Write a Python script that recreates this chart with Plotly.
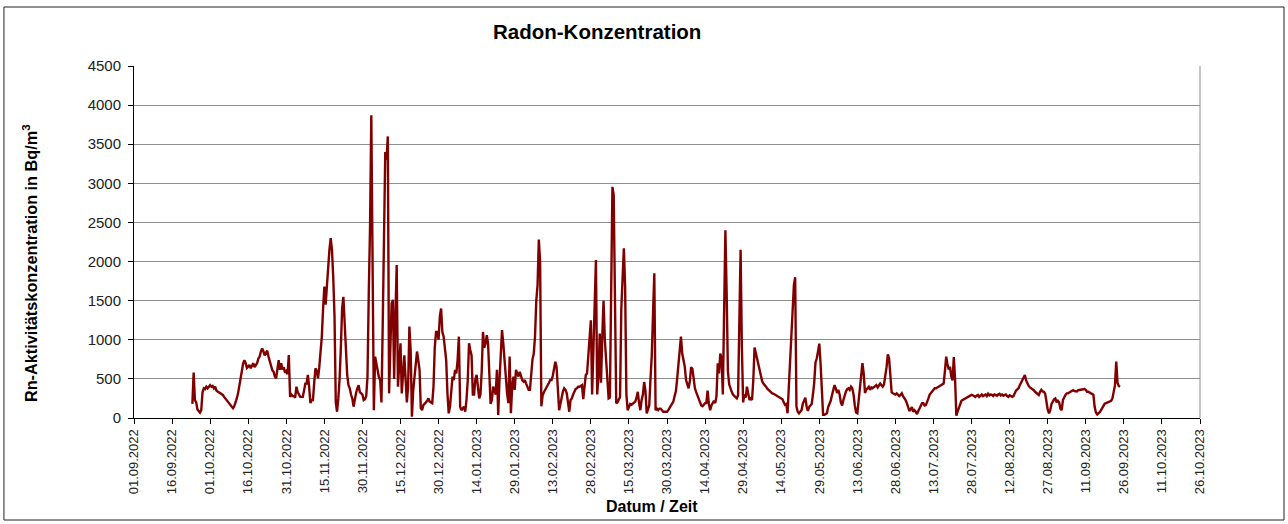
import pandas as pd
import plotly.graph_objects as go

# Radon concentration, 12-hourly readings, one list per month
sep_2022 = [180, 580, 230, 200, 110, 80, 70, 100, 330, 380, 370, 400, 380, 400]
oct_2022 = [420, 400, 410, 380, 400, 350, 340, 320, 310, 300, 295, 270, 250, 230, 210, 190,
            170, 140, 125, 150, 190, 250, 315, 400, 465, 600, 700, 740, 700, 640, 655, 680,
            635, 660, 700, 650, 677, 700, 760, 785, 850, 890, 850, 800, 835, 860, 785, 720,
            655, 610, 590, 530, 507, 650, 740, 615, 700, 620, 650, 580, 600, 560]
nov_2022 = [805, 270, 300, 280, 280, 260, 400, 330, 300, 270, 270, 270, 350, 440, 440, 550,
            400, 190, 230, 230, 450, 635, 600, 507, 650, 850, 1040, 1400, 1680, 1450, 1700, 1900,
            2150, 2300, 2150, 1800, 1300, 200, 80, 250, 500, 900, 1400, 1550, 1200, 800, 550, 420,
            380, 300, 250, 145, 250, 320, 380, 420, 330, 315, 300, 230]
dec_2022 = [240, 280, 530, 1590, 2445, 3870, 2400, 100, 785, 680, 600, 520, 485, 200, 1200, 2600,
            3400, 3300, 3600, 315, 1100, 1465, 1510, 500, 1300, 1955, 400, 740, 955, 315, 650, 800,
            500, 200, 400, 1170, 870, 17, 350, 507, 635, 850, 740, 615, 125, 100, 165, 190,
            200, 220, 250, 210, 200, 190, 400, 900, 1100, 1100, 1000, 1300, 1400, 1100]
jan_2023 = [1040, 910, 740, 315, 60, 145, 400, 530, 485, 615, 570, 740, 1040, 145, 100, 130,
            145, 80, 230, 485, 955, 870, 800, 300, 300, 500, 550, 400, 250, 300, 600, 1100,
            900, 950, 1060, 950, 500, 180, 230, 400, 350, 300, 615, 40, 485, 870, 1125, 955,
            740, 485, 315, 190, 785, 60, 400, 530, 360, 615, 570, 530, 590, 530]
feb_2023 = [480, 465, 485, 440, 400, 360, 360, 600, 750, 820, 1040, 1500, 1700, 2280, 2000, 150,
            290, 330, 360, 380, 400, 450, 485, 485, 540, 620, 720, 650, 300, 100, 180, 270,
            340, 380, 360, 315, 180, 80, 230, 250, 300, 340, 370, 380, 400, 400, 410, 420,
            240, 400, 550, 570, 825, 1040, 1250, 300]
mar_2023 = [1000, 1450, 2020, 300, 530, 1080, 450, 1040, 1500, 1000, 760, 520, 250, 260, 2000, 2955,
            2850, 1680, 190, 200, 240, 270, 1400, 1765, 2170, 1680, 300, 100, 145, 180, 170, 180,
            200, 210, 260, 335, 190, 100, 230, 300, 460, 350, 60, 100, 160, 500, 800, 1335,
            1850, 100, 120, 100, 120, 120, 100, 80, 80, 80, 80, 100, 130, 170]
apr_2023 = [190, 210, 280, 340, 500, 700, 800, 1040, 825, 740, 655, 485, 420, 380, 470, 650,
            630, 480, 380, 330, 290, 240, 190, 160, 150, 165, 190, 190, 350, 180, 100, 160,
            200, 220, 190, 280, 700, 570, 825, 760, 300, 1680, 2400, 1600, 600, 430, 370, 335,
            300, 280, 270, 250, 290, 1250, 2150, 900, 200, 300, 260, 400]
may_2023 = [300, 230, 250, 230, 485, 900, 830, 760, 655, 590, 520, 470, 440, 425, 400, 375,
            360, 340, 325, 315, 310, 300, 285, 270, 270, 255, 250, 240, 200, 170, 180, 60,
            400, 740, 1120, 1300, 1700, 1800, 145, 80, 60, 80, 100, 180, 220, 260, 150, 90,
            140, 160, 180, 300, 450, 710, 760, 850, 950, 700, 300, 40, 40, 55]
jun_2023 = [60, 140, 170, 220, 290, 360, 420, 380, 320, 360, 300, 200, 160, 230, 300, 340,
            370, 380, 360, 400, 380, 300, 160, 70, 60, 200, 400, 550, 700, 570, 320, 360,
            380, 400, 360, 390, 380, 390, 400, 420, 390, 410, 440, 420, 400, 430, 520, 650,
            815, 760, 550, 330, 315, 310, 300, 315, 290, 280, 295, 315]
jul_2023 = [280, 260, 230, 190, 120, 90, 110, 140, 80, 100, 80, 50, 90, 120, 170, 190,
            190, 160, 165, 200, 250, 300, 325, 340, 360, 380, 380, 390, 400, 410, 420, 420,
            440, 600, 785, 690, 620, 655, 530, 480, 780, 500, 30, 80, 130, 190, 220, 230,
            240, 250, 255, 265, 270, 280, 295, 290, 280, 270, 285, 295, 270, 290]
aug_2023 = [300, 280, 290, 300, 280, 310, 290, 300, 295, 280, 300, 290, 285, 300, 310, 290,
            300, 285, 290, 300, 280, 270, 290, 280, 270, 280, 330, 350, 365, 380, 420, 450,
            480, 500, 550, 480, 440, 410, 390, 380, 370, 355, 335, 320, 300, 295, 335, 360,
            340, 335, 310, 200, 110, 60, 100, 180, 220, 240, 250, 200, 220, 200]
sep_2023 = [120, 100, 230, 270, 295, 315, 315, 325, 335, 335, 355, 345, 340, 340, 355, 360,
            360, 360, 375, 370, 360, 335, 335, 320, 315, 310, 295, 140, 70, 45, 55, 75,
            100, 130, 165, 185, 190, 200, 210, 210, 220, 250, 320, 420, 720, 450, 410, 400]

months = [
    ("2022-09-24", sep_2022), ("2022-10-01", oct_2022), ("2022-11-01", nov_2022),
    ("2022-12-01", dec_2022), ("2023-01-01", jan_2023), ("2023-02-01", feb_2023),
    ("2023-03-01", mar_2023), ("2023-04-01", apr_2023), ("2023-05-01", may_2023),
    ("2023-06-01", jun_2023), ("2023-07-01", jul_2023), ("2023-08-01", aug_2023),
    ("2023-09-01", sep_2023),
]

times = []
values = []
for start, vals in months:
    times.extend(pd.date_range(start, periods=len(vals), freq="12h"))
    values.extend(vals)

fig = go.Figure()

fig.add_trace(
    go.Scatter(
        x=times,
        y=values,
        mode="lines",
        line=dict(color="#800000", width=2.4),
        showlegend=False
    ))

fig.update_xaxes(
    range=["2022-09-01", "2023-10-26"],
    tick0="2022-09-01",
    dtick=15 * 86400000,
    tickformat="%d.%m.%Y",
    tickangle=-90,
    ticks="outside",
    ticklen=5,
    tickcolor="black",
    showline=True,
    linecolor="black",
    linewidth=1,
    showgrid=False,
    tickfont=dict(size=13, color="#222222"),
)

fig.update_yaxes(
    range=[0, 4500],
    dtick=500,
    ticks="outside",
    ticklen=5,
    tickcolor="black",
    ticklabelstandoff=4,
    showline=True,
    linecolor="black",
    linewidth=1,
    gridcolor="#8f8f8f",
    gridwidth=1,
    zeroline=False,
    tickfont=dict(size=15, color="#222222"),
)

fig.update_layout(
    width=1288,
    height=524,
    margin=dict(l=134, r=88, t=66, b=106),
    paper_bgcolor="white",
    plot_bgcolor="white",
    font=dict(family="Liberation Sans, Arial, sans-serif", color="black"),
    annotations=[
        dict(text="<b>Radon-Konzentration</b>", xref="paper", yref="paper",
             x=0.4343, y=1.0966, xanchor="center", yanchor="middle",
             showarrow=False, font=dict(size=20.5)),
        dict(text="<b>Rn-Aktivitätskonzentration in Bq/m<sup>3</sup></b>", xref="paper", yref="paper",
             x=-0.0976, y=0.44, xanchor="center", yanchor="middle", textangle=-90,
             showarrow=False, font=dict(size=16.3)),
        dict(text="<b>Datum / Zeit</b>", xref="paper", yref="paper",
             x=0.486, y=-0.2528, xanchor="center", yanchor="middle",
             showarrow=False, font=dict(size=16)),
    ],
    shapes=[
        dict(type="rect", xref="paper", yref="paper", x0=-0.122, x1=1.0788, y0=-0.2898, y1=1.1676,
             line=dict(color="#222222", width=1)),
        dict(type="line", xref="paper", yref="paper", x0=1, x1=1, y0=0, y1=1,
             line=dict(color="#8f8f8f", width=1)),
    ],
)

fig.write_html("out.html", config={"displayModeBar": False},
               post_script="document.body.style.margin='0px';")
